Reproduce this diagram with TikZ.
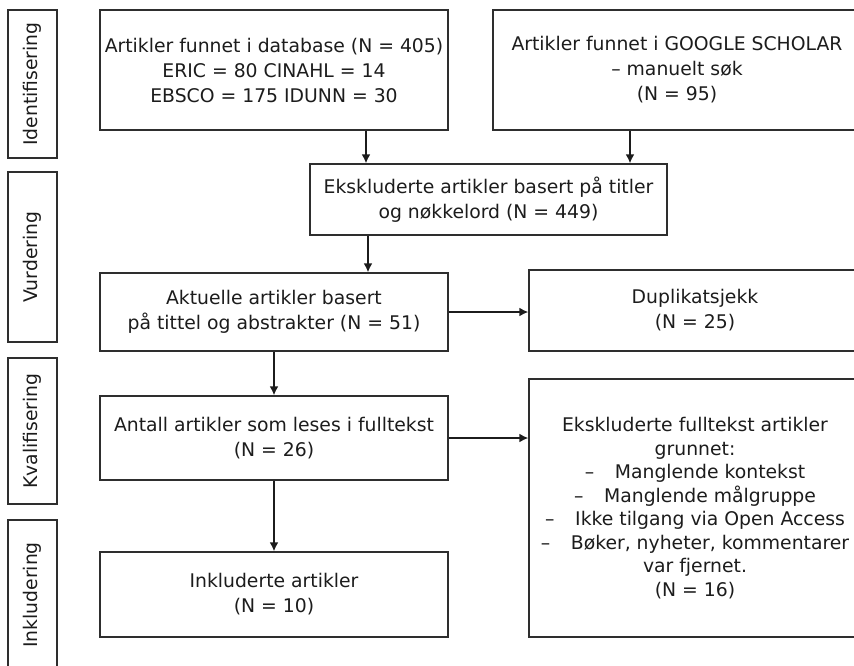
\documentclass[tikz,border=0pt]{standalone}
\usepackage{fontspec}
\setmainfont{DejaVu Sans}
\usetikzlibrary{arrows.meta}
\definecolor{ink}{HTML}{1C1C1C}
\definecolor{rule}{HTML}{2E2E2E}
\begin{document}
\begin{tikzpicture}[x=1pt,y=-1pt,
  every node/.style={font=\fontsize{18.8}{25}\selectfont, text=ink},
  box/.style={draw=rule, line width=1.3pt, rectangle, inner sep=0pt, align=center},
  phase/.style={box, rotate=90},
  arr/.style={draw=ink, line width=2pt, -{Latex[length=9pt,width=9pt]}}]
\useasboundingbox (0,0) rectangle (854,665);
\clip (0,0) rectangle (854,665);

% phase labels on the left
\node[phase, minimum width=148pt, minimum height=49pt] (p1) at (32.5,84) {Identifisering};
\node[phase, minimum width=170pt, minimum height=49pt] (p2) at (32.5,257) {Vurdering};
\node[phase, minimum width=146pt, minimum height=49pt] (p3) at (32.5,431) {Kvalifisering};
\node[phase, minimum width=150pt, minimum height=49pt] (p4) at (32.5,595) {Inkludering};

% flow boxes
\node[box, minimum width=348pt, minimum height=120pt] (db) at (274,70)
  {Artikler funnet i database (N = 405)\\ERIC = 80 CINAHL = 14\\EBSCO = 175 IDUNN = 30};
\node[box, minimum width=368pt, minimum height=120pt] (gs) at (677,70)
  {Artikler funnet i GOOGLE SCHOLAR\\– manuelt søk\\(N = 95)};
\node[box, minimum width=357pt, minimum height=71pt] (ex) at (488.5,199.5)
  {Ekskluderte artikler basert på titler\\og nøkkelord (N = 449)};
\node[box, minimum width=348pt, minimum height=78pt] (ak) at (274,312)
  {Aktuelle artikler basert\\på tittel og abstrakter (N = 51)};
\node[box, minimum width=332pt, minimum height=81pt] (du) at (695,310.5)
  {Duplikatsjekk\\(N = 25)};
\node[box, minimum width=348pt, minimum height=84pt] (an) at (274,438)
  {Antall artikler som leses i fulltekst\\(N = 26)};
\node[box, minimum width=332pt, minimum height=258pt, font=\fontsize{18.8}{23.5}\selectfont] (ef) at (695,508)
  {Ekskluderte fulltekst artikler\\grunnet:\\
   –\hspace{1.1em}Manglende kontekst\\
   –\hspace{1.1em}Manglende målgruppe\\
   –\hspace{1.1em}Ikke tilgang via Open Access\\
   –\hspace{1.1em}Bøker, nyheter, kommentarer\\
   var fjernet.\\(N = 16)};
\node[box, minimum width=348pt, minimum height=85pt] (in) at (274,594.5)
  {Inkluderte artikler\\(N = 10)};

% connectors
\draw[arr] ([xshift=92pt]db.south) -- ([xshift=92pt]db.south |- ex.north);
\draw[arr] ([xshift=-47pt]gs.south) -- ([xshift=-47pt]gs.south |- ex.north);
\draw[arr] ([xshift=-120.5pt]ex.south) -- ([xshift=-120.5pt]ex.south |- ak.north);
\draw[arr] (ak.east) -- (ak.east -| du.west);
\draw[arr] (ak.south) -- (an.north);
\draw[arr] (an.east) -- (an.east -| ef.west);
\draw[arr] (an.south) -- (in.north);
\end{tikzpicture}
\end{document}
